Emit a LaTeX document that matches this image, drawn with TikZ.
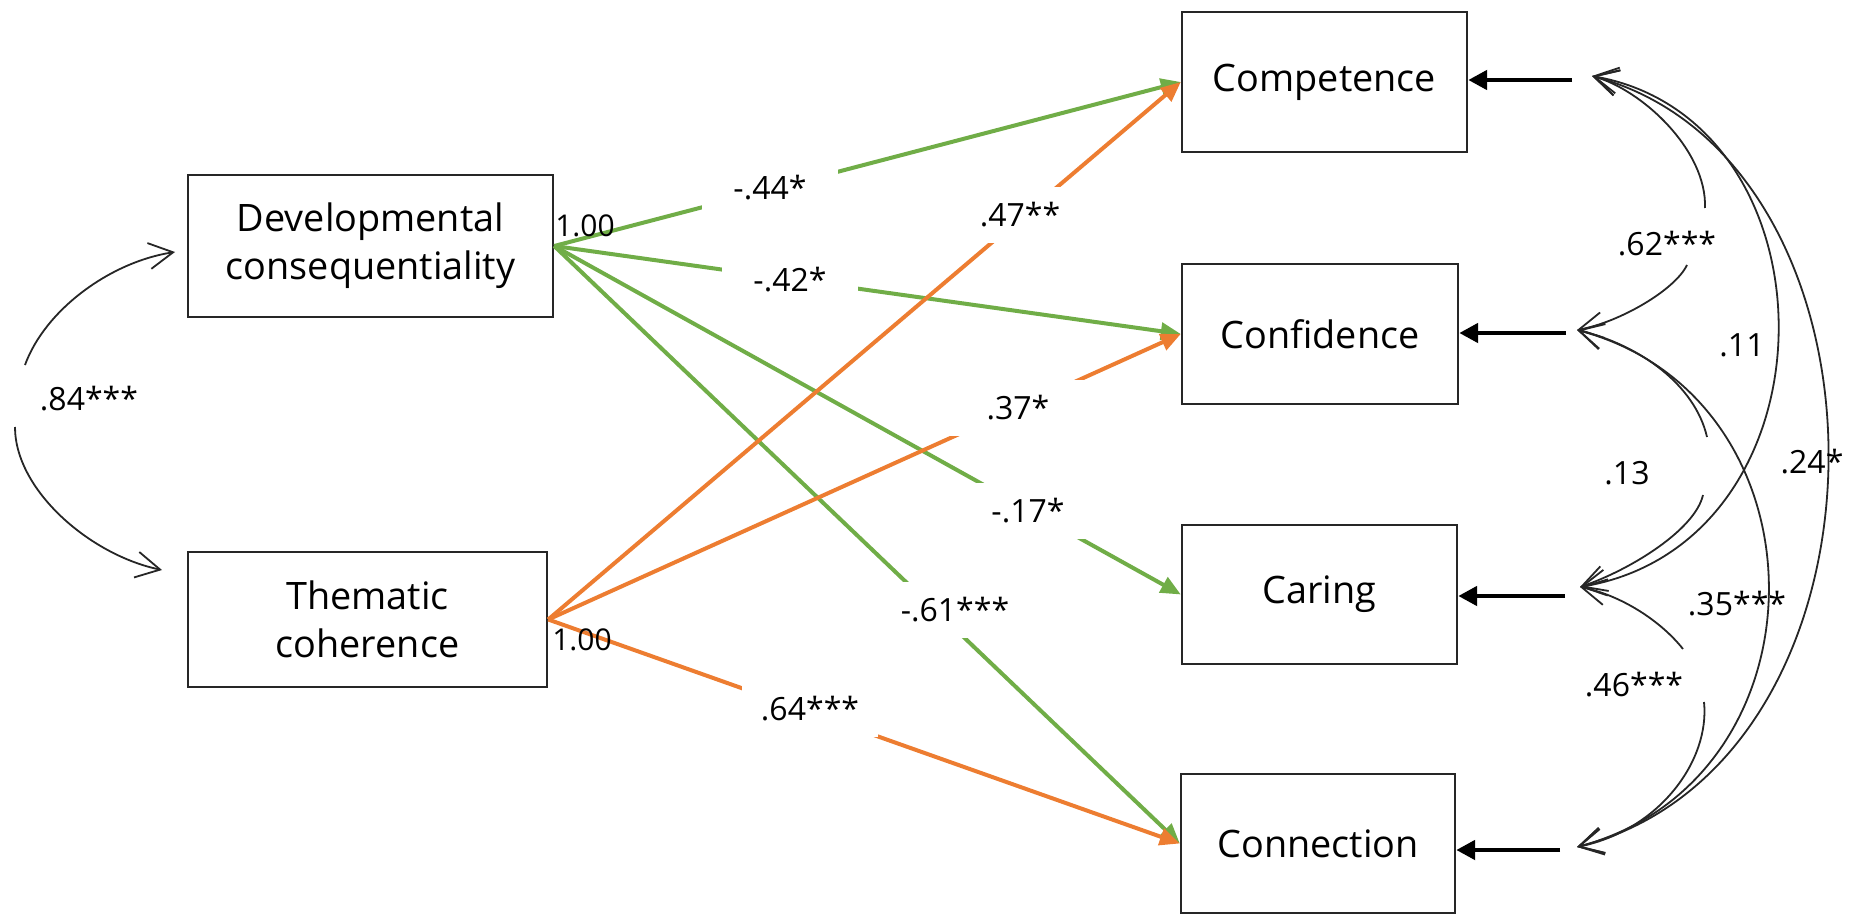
\documentclass[tikz,border=0pt]{standalone}
\usepackage{fontspec}
\setmainfont{Open Sans}
\usetikzlibrary{arrows.meta}
\definecolor{pgreen}{HTML}{70AD47}
\definecolor{porange}{HTML}{ED7D31}
\begin{document}
\begin{tikzpicture}[x=0.5pt,y=-0.5pt,
  box/.style={draw=black!85, line width=1.2pt, align=center, inner sep=0pt, font=\fontsize{18.9}{24}\selectfont},
  gpath/.style={draw=pgreen, line width=2pt, -{Triangle[length=10pt,width=8.5pt]}},
  opath/.style={draw=porange, line width=2pt, -{Triangle[length=10pt,width=8.5pt]}},
  plbl/.style={fill=white, minimum width=68pt, minimum height=28pt, inner sep=0pt, font=\fontsize{16}{18}\selectfont},
  clbl/.style={inner sep=0pt, font=\fontsize{16}{18}\selectfont},
  onelbl/.style={inner sep=0pt, font=\fontsize{15}{16}\selectfont},
  cov/.style={draw=black!85, line width=0.9pt},
  covtip/.style={-{Straight Barb[length=12pt,width=13pt]}},
  covboth/.style={{Straight Barb[length=12pt,width=13pt]}-{Straight Barb[length=12pt,width=13pt]}},
  resid/.style={draw=black, line width=2.4pt, -{Triangle[length=9.5pt,width=9.5pt]}},
]
\useasboundingbox (0,0) rectangle (1849,915);

% boxes
\node[box, minimum width=182.5pt, minimum height=71pt] (dev) at (370.5,246) {Developmental\\consequentiality};
\node[box, minimum width=179.5pt, minimum height=67.5pt] (them) at (367.5,619.5) {Thematic\\coherence};
\node[box, minimum width=142.5pt, minimum height=70pt] (comp) at (1324.5,82) {Competence};
\node[box, minimum width=138pt, minimum height=70pt] (conf) at (1320,334) {Confidence};
\node[box, minimum width=137.5pt, minimum height=69.5pt] (car) at (1319.5,594.5) {Caring};
\node[box, minimum width=137pt, minimum height=69.5pt] (conn) at (1318,843.5) {Connection};

% paths
\draw[gpath] (dev.east) -- (comp.west);
\draw[gpath] (dev.east) -- (conf.west);
\draw[gpath] (dev.east) -- (car.west);
\draw[gpath] (dev.east) -- (conn.west);
\draw[opath] (them.east) -- (comp.west);
\draw[opath] (them.east) -- (conf.west);
\draw[opath] (them.east) -- (conn.west);

% path labels
\node[plbl] (l44) at (770,188) {-.44*};
\node[plbl] (l42) at (790,280) {-.42*};
\node[plbl] (l47) at (1020,215) {.47**};
\node[plbl] (l37) at (1018,408) {.37*};
\node[plbl] (l17) at (1028,511) {-.17*};
\node[plbl] (l61) at (955,610) {-.61***};
\node[plbl] (l64) at (810,709) {.64***};
\node[onelbl] (one1) at (585,226) {1.00};
\node[onelbl] (one2) at (582,640) {1.00};

% left covariance
\coordinate (a1) at (25,365);
\coordinate (a2) at (15,427);
\coordinate (dtip) at (175,252);
\coordinate (ttip) at (162,570);
\draw[cov, covtip] (a1) .. controls (45,310) and (110,262) .. (dtip);
\draw[cov, covtip] (a2) .. controls (15,490) and (90,555) .. (ttip);
\node[clbl] (l84) at (89,399) {.84***};

% residual stubs
\coordinate (e1) at (1572,80);
\coordinate (e2) at (1566,333);
\coordinate (e3) at (1565,596);
\coordinate (e4) at (1560,850);
\draw[resid] (e1) -- (e1 -| comp.east);
\draw[resid] (e2) -- (e2 -| conf.east);
\draw[resid] (e3) -- (e3 -| car.east);
\draw[resid] (e4) -- (e4 -| conn.east);

% covariance tips
\coordinate (t1) at (1592,76);
\coordinate (t2) at (1577,330);
\coordinate (t3) at (1580,587);
\coordinate (t4) at (1577,847);

% short arcs in two pieces
\draw[cov, covtip] (1705,208) .. controls (1707,150) and (1642,90) .. (t1);
\draw[cov, covtip] (1687,265) .. controls (1675,290) and (1620,322) .. (t2);
\draw[cov, covtip] (1707,437) .. controls (1695,385) and (1640,345) .. (t2);
\draw[cov, covtip] (1703,495) .. controls (1695,530) and (1630,570) .. (t3);
\draw[cov, covtip] (1683,649) .. controls (1660,620) and (1620,595) .. (t3);
\draw[cov, covtip] (1704,702) .. controls (1710,760) and (1660,830) .. (t4);

% long arcs
\draw[cov, covboth] (t1) .. controls (1842,120) and (1842,543) .. (t3);
\draw[cov, covboth] (t1) .. controls (1909,161) and (1909,762) .. (t4);
\draw[cov, covboth] (t2) .. controls (1832,398) and (1832,779) .. (t4);

% covariance labels
\node[clbl] (l62) at (1667,244) {.62***};
\node[clbl] (l11) at (1742,345) {.11};
\node[clbl] (l13) at (1627,473) {.13};
\node[clbl] (l24) at (1812,462) {.24*};
\node[clbl] (l35) at (1737,604) {.35***};
\node[clbl] (l46) at (1634,685) {.46***};
\end{tikzpicture}
\end{document}
